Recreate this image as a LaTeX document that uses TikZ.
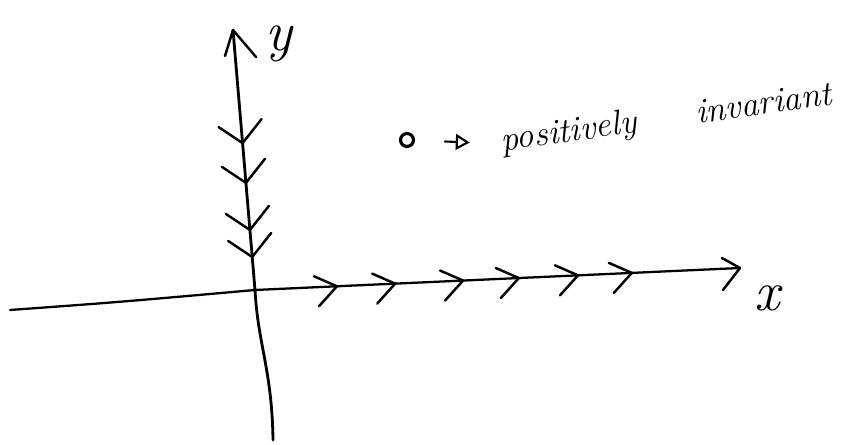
\documentclass[tikz,border=0pt]{standalone}
\usetikzlibrary{arrows.meta,calc}

\begin{document}
\begin{tikzpicture}[x=0.02cm,y=-0.02cm,line cap=round,line join=round,
  ax/.style={line width=1.6pt},chev/.style={line width=1.4pt},
  lab/.style={font=\itshape}]
\useasboundingbox (0,0) rectangle (855,445);
\coordinate (ytop) at (233,30);
\coordinate (o) at (255,290);
\coordinate (ybot) at (273,440);
\coordinate (xl) at (10,310);
\coordinate (xr) at (740,268);
% axes
\draw[ax] (ybot) .. controls (272,370) and (258,345) .. (o) -- (ytop);
\draw[ax,line width=1.3pt] (xl) .. controls (120,302) .. (o) -- (xr);
\draw[chev] (225,56) -- (ytop) -- (256,57);
\draw[chev] (722,258) -- (xr) -- (723,290);
\node[lab,inner sep=1pt,font=\fontsize{32}{32}\selectfont\itshape] (ylab) at (279,44) {y};
\node[lab,font=\fontsize{32}{32}\selectfont\itshape] (xlab) at (767,298) {x};
% flow on the axes
\foreach \t in {0.435,0.588,0.769,0.873}
  \draw[chev] ($(ytop)!\t!(o)$) ++(-24,-16) -- ++(24,16) -- ++(19,-24);
\foreach \t in {0.169,0.289,0.429,0.544,0.666,0.777}
  \draw[chev] ($(o)!\t!(xr)$) ++(-23,-10) -- ++(23,10) -- ++(-18,20);
% fixed point
\node[circle,draw,line width=1.8pt,inner sep=2.6pt] (pt) at (407,140) {};
\node[lab,anchor=base west,rotate=8,font=\fontsize{20}{20}\selectfont\itshape] (inv) at (496,152) {positively\hspace{1.2cm}invariant};
\draw[-{Triangle[open,length=8pt,width=9pt]},line width=1.2pt,shorten <=0.6cm,shorten >=0.5cm] (pt) -- (inv.west);
\end{tikzpicture}
\end{document}
